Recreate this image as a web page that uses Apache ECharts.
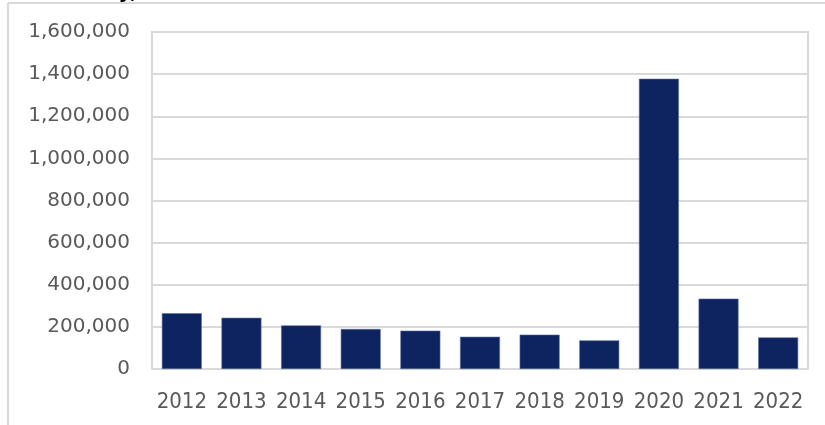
<!DOCTYPE html>
<html><head><meta charset="utf-8">
<script src="https://cdn.jsdelivr.net/npm/echarts@6/dist/echarts.min.js"></script>
<style>html,body{margin:0;padding:0;background:#fff}#c{width:825px;height:425px}</style>
</head><body><div id="c"></div>
<script>
var categories = ['2012','2013','2014','2015','2016','2017','2018','2019','2020','2021','2022'];
var values = [265000, 243000, 207000, 190000, 182000, 153000, 163000, 136000, 1378000, 334000, 150000];
var yMin = 0, yMax = 1600000, yStep = 200000;

var chart = echarts.init(document.getElementById('c'));
chart.setOption({
  animation: false,
  backgroundColor: '#fff',
  graphic: [
    {type:'line', shape:{x1:8,y1:3,x2:825,y2:3}, style:{stroke:'#d9d9d9', lineWidth:2}},
    {type:'line', shape:{x1:8,y1:3,x2:8,y2:425}, style:{stroke:'#d9d9d9', lineWidth:2}},
    {type:'text', left: 62, top: -17, style:{text:'Yearly,', fill:'#000', font:'bold 20px "DejaVu Sans"'}}
  ],
  grid: {left:152, top:32, right:17, bottom:56, show:true, borderColor:'#d9d9d9', borderWidth:2},
  xAxis: {
    type:'category', data: categories,
    axisLine:{show:true, lineStyle:{color:'#d9d9d9', width:2}},
    axisTick:{show:false},
    axisLabel:{interval:0, color:'#595959', fontSize:22, fontFamily:'"DejaVu Sans Condensed",Roboto,sans-serif', margin:22}
  },
  yAxis: {
    type:'value', min:yMin, max:yMax, interval:yStep,
    axisLine:{show:true, lineStyle:{color:'#d9d9d9', width:2}},
    splitLine:{lineStyle:{color:'#d9d9d9', width:2}},
    axisLabel:{color:'#595959', fontSize:20, fontFamily:'"DejaVu Sans",sans-serif', margin:22,
      formatter:function(v){return v.toLocaleString('en-US');}}
  },
  series: [{
    type:'bar', data: values, barWidth:'67%',
    itemStyle:{color:'#0d2461', borderColor:'#5a6f9c', borderWidth:0.6}
  }]
});
</script></body></html>
